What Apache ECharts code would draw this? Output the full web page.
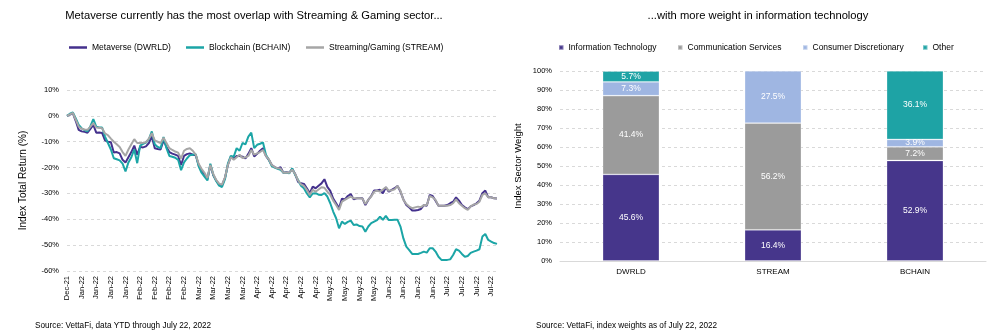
<!DOCTYPE html>
<html>
<head>
<meta charset="utf-8">
<script src="https://cdn.jsdelivr.net/npm/echarts@6/dist/echarts.min.js"></script>
<style>
  html, body { margin: 0; padding: 0; background: #ffffff; }
  #chart { width: 999px; height: 332px; }
</style>
</head>
<body>
<div id="chart"></div>
<script>
// Weekly tick labels for the daily return axis (one label every five trading days)
const tickLabels = ['Dec-21', 'Jan-22', 'Jan-22', 'Jan-22', 'Jan-22', 'Feb-22', 'Feb-22', 'Feb-22', 'Feb-22',
  'Mar-22', 'Mar-22', 'Mar-22', 'Mar-22', 'Apr-22', 'Apr-22', 'Apr-22', 'Apr-22', 'Apr-22',
  'May-22', 'May-22', 'May-22', 'May-22', 'Jun-22', 'Jun-22', 'Jun-22', 'Jun-22',
  'Jul-22', 'Jul-22', 'Jul-22', 'Jul-22'];

// Cumulative total return (%) per trading day, Dec 31 2021 to Jul 22 2022
const dwrld = [0, 0.5, 1.0, -2.0, -5.4, -6.0, -6.2, -6.5, -5.0, -3.5,
  -6.5, -6.4, -6.6, -9.5, -10.0, -10.2, -14.2, -14.0, -14.5, -17.0,
  -18.0, -16.0, -14.0, -11.5, -15.0, -12.0, -12.2, -11.8, -10.5, -8.0,
  -12.5, -12.8, -13.0, -9.5, -12.0, -14.0, -14.6, -15.0, -15.5, -19.0,
  -15.5, -14.8, -14.5, -15.0, -15.2, -19.0, -21.0, -22.5, -24.5, -19.0,
  -23.0, -25.0, -26.5, -26.8, -24.0, -19.0, -15.8, -16.5, -15.5, -15.5,
  -15.8, -16.5, -14.7, -12.5, -15.7, -14.7, -13.5, -12.5, -15.5, -17.0,
  -19.0, -19.8, -20.3, -19.9, -22.0, -21.8, -22.0, -20.6, -22.5, -25.5,
  -26.1, -26.3, -28.0, -29.9, -27.4, -28.0, -27.0, -26.1, -24.5, -27.5,
  -29.0, -32.0, -33.8, -35.7, -32.0, -32.3, -31.0, -30.2, -32.3, -31.9,
  -31.9, -31.9, -34.5, -32.5, -31.0, -28.9, -28.9, -28.6, -30.0, -27.6,
  -29.3, -28.6, -28.0, -27.1, -29.3, -32.3, -34.5, -35.4, -36.6, -36.6,
  -36.4, -36.0, -34.5, -34.8, -30.6, -31.0, -32.8, -34.8, -34.8, -34.8,
  -34.5, -33.8, -33.2, -31.5, -32.8, -34.5, -35.4, -36.1, -35.0, -34.5,
  -33.8, -32.8, -29.9, -28.9, -31.5, -31.5, -31.9, -32.0];

const bchain = [0, 0.8, 1.3, -1.0, -3.5, -4.8, -5.5, -6.0, -4.0, -1.3,
  -4.2, -4.5, -4.5, -8.0, -10.5, -13.0, -16.4, -16.8, -17.2, -18.5,
  -21.5, -18.0, -16.0, -13.0, -18.3, -11.5, -10.8, -10.3, -9.0, -6.0,
  -11.0, -12.0, -12.5, -8.2, -12.5, -15.5, -15.8, -16.2, -17.0, -21.0,
  -18.0, -16.5, -15.2, -15.0, -14.8, -19.5, -22.0, -23.5, -25.0, -18.5,
  -22.8, -25.2, -27.0, -27.5, -24.5, -18.5, -15.5, -15.8, -12.5, -13.5,
  -10.5, -11.0, -8.0, -6.5, -12.5, -11.2, -10.8, -10.3, -15.0, -17.0,
  -19.4, -20.0, -20.5, -20.9, -22.0, -22.0, -22.2, -20.3, -22.8, -24.8,
  -27.0, -28.0, -30.0, -31.5, -30.0, -29.9, -30.5, -30.6, -29.9, -31.2,
  -33.8, -37.0, -39.6, -43.5, -40.9, -41.8, -41.0, -40.5, -42.2, -42.0,
  -42.6, -42.8, -44.8, -42.8, -41.5, -40.9, -40.3, -39.0, -40.2, -38.7,
  -40.3, -40.3, -40.2, -40.2, -42.8, -47.4, -50.6, -51.9, -53.4, -53.4,
  -53.4, -53.0, -52.5, -52.9, -51.2, -51.2, -52.5, -54.5, -55.7, -55.7,
  -55.7, -55.5, -53.8, -51.6, -52.1, -53.4, -54.5, -54.2, -53.0, -52.5,
  -52.1, -51.6, -46.7, -45.7, -48.0, -48.6, -49.2, -49.5];

const stream = [0, 0.6, 1.1, -1.5, -4.2, -5.0, -5.3, -5.4, -4.2, -2.8,
  -4.5, -4.6, -4.8, -6.8, -7.5, -8.8, -10.0, -11.0, -12.0, -14.0,
  -15.5, -13.0, -11.0, -9.0, -10.5, -10.5, -10.4, -10.2, -8.8, -6.7,
  -9.5, -10.0, -10.5, -8.5, -10.5, -12.5, -13.2, -13.8, -14.2, -16.5,
  -13.5, -12.8, -12.5, -13.5, -15.0, -18.5, -20.5, -22.0, -24.0, -19.0,
  -22.5, -24.8, -26.2, -26.6, -23.8, -19.0, -16.0, -17.0, -16.0, -15.0,
  -16.3, -16.0, -15.5, -13.2, -15.0, -14.5, -14.0, -13.2, -15.5, -16.8,
  -19.0, -19.8, -20.3, -20.4, -22.0, -21.9, -22.0, -20.8, -22.5, -25.0,
  -26.5, -27.1, -28.6, -30.6, -28.6, -29.3, -28.5, -27.6, -27.8, -29.3,
  -30.5, -32.8, -34.5, -36.4, -33.2, -32.5, -31.8, -31.2, -31.9, -31.9,
  -31.9, -32.0, -34.1, -32.5, -31.2, -29.3, -28.9, -29.3, -28.5, -27.6,
  -29.0, -28.8, -28.4, -27.1, -29.0, -32.5, -34.1, -35.1, -35.7, -35.4,
  -35.1, -35.3, -34.5, -34.6, -31.0, -31.5, -32.5, -34.8, -34.8, -34.8,
  -34.8, -34.5, -33.8, -32.3, -33.8, -34.8, -35.7, -36.4, -35.0, -34.3,
  -34.1, -33.2, -30.6, -30.0, -31.5, -31.5, -31.9, -32.0];

// Sector weights (%) for each index
const funds = ['DWRLD', 'STREAM', 'BCHAIN'];
const infoTech = [45.6, 16.4, 52.9];
const commServices = [41.4, 56.2, 7.2];
const consDisc = [7.3, 27.5, 3.9];
const other = [5.7, 0, 36.1];

const FONT = '"Liberation Sans", Arial, Helvetica, sans-serif';
const GRID_LINE = { type: [3, 3], color: '#d9d9d9', width: 1 };

const lineNames = ['Metaverse (DWRLD)', 'Blockchain (BCHAIN)', 'Streaming/Gaming (STREAM)'];
const lineColors = ['#44318D', '#1BA5A6', '#A6A6A6'];
const lineData = [dwrld, bchain, stream];
const lineLegendLeft = [69, 186, 306];

const barNames = ['Information Technology', 'Communication Services', 'Consumer Discretionary', 'Other'];
const barColors = ['#46368B', '#9B9B9B', '#9FB6E2', '#1EA3A5'];
const barData = [infoTech, commServices, consDisc, other];
const barLegendLeft = [558, 677, 802, 922];

const dayIds = dwrld.map((_, i) => String(i));

const legends = [];
lineNames.forEach((n, k) => legends.push({
  data: [n], left: lineLegendLeft[k], top: 43, padding: 0,
  icon: 'rect', itemWidth: 18, itemHeight: 2.5,
  textStyle: { fontFamily: FONT, fontSize: 8.5, color: '#000' }
}));
barNames.forEach((n, k) => legends.push({
  data: [n], left: barLegendLeft[k], top: 43, padding: 0,
  icon: 'rect', itemWidth: 4.5, itemHeight: 4.5,
  textStyle: { fontFamily: FONT, fontSize: 8.5, color: '#000' }
}));

const series = [];
lineNames.forEach((n, k) => series.push({
  name: n, type: 'line', xAxisIndex: 0, yAxisIndex: 0,
  data: lineData[k], showSymbol: false, symbol: 'none',
  lineStyle: { color: lineColors[k], width: 2 },
  itemStyle: { color: lineColors[k] },
  emphasis: { disabled: true }
}));
barNames.forEach((n, k) => series.push({
  name: n, type: 'bar', xAxisIndex: 1, yAxisIndex: 1, stack: 'weight',
  data: barData[k], barWidth: '40%',
  itemStyle: { color: barColors[k], borderColor: 'rgba(255,255,255,0.35)', borderWidth: 0.8 },
  label: {
    show: true, position: 'inside', color: '#ffffff', fontFamily: FONT, fontSize: 8.5,
    formatter: p => (p.value ? p.value.toFixed(1) + '%' : '')
  },
  emphasis: { disabled: true }
}));

const option = {
  animation: false,
  backgroundColor: '#ffffff',
  textStyle: { fontFamily: FONT },
  graphic: [
    { type: 'text', x: 254, y: 16,
      style: { text: 'Metaverse currently has the most overlap with Streaming & Gaming sector...',
        font: '11.2px ' + FONT, fill: '#000', textAlign: 'center', textVerticalAlign: 'middle' } },
    { type: 'text', x: 758, y: 16,
      style: { text: '...with more weight in information technology',
        font: '11.2px ' + FONT, fill: '#000', textAlign: 'center', textVerticalAlign: 'middle' } },
    { type: 'text', x: 35, y: 326,
      style: { text: 'Source: VettaFi, data YTD through July 22, 2022',
        font: '8.2px ' + FONT, fill: '#000', textAlign: 'left', textVerticalAlign: 'middle' } },
    { type: 'text', x: 536, y: 326,
      style: { text: 'Source: VettaFi, index weights as of July 22, 2022',
        font: '8.2px ' + FONT, fill: '#000', textAlign: 'left', textVerticalAlign: 'middle' } }
  ],
  legend: legends,
  grid: [
    { left: 67, right: 502, top: 90, bottom: 61, outerBoundsMode: 'none' },
    { left: 560, right: 13, top: 71, bottom: 71, outerBoundsMode: 'none' }
  ],
  xAxis: [
    {
      type: 'category', gridIndex: 0, data: dayIds, boundaryGap: false,
      axisLine: { show: false }, axisTick: { show: false }, splitLine: { show: false },
      axisLabel: {
        interval: 4, rotate: 90, margin: 5, fontFamily: FONT, fontSize: 7.5, color: '#000',
        formatter: (v, idx) => tickLabels[idx / 5]
      }
    },
    {
      type: 'category', gridIndex: 1, data: funds,
      axisLine: { show: true, lineStyle: { color: '#d9d9d9', width: 1 } },
      axisTick: { show: false },
      axisLabel: { margin: 7, fontFamily: FONT, fontSize: 8, color: '#000' }
    }
  ],
  yAxis: [
    {
      type: 'value', gridIndex: 0, min: -60, max: 10, interval: 10,
      axisLine: { show: false }, axisTick: { show: false },
      splitLine: { show: true, lineStyle: GRID_LINE },
      axisLabel: { margin: 8, fontFamily: FONT, fontSize: 7.5, color: '#000', formatter: '{value}%' },
      name: 'Index Total Return (%)', nameLocation: 'middle', nameGap: 39,
      nameTextStyle: { fontFamily: FONT, fontSize: 10, color: '#000' }
    },
    {
      type: 'value', gridIndex: 1, min: 0, max: 100, interval: 10,
      axisLine: { show: false }, axisTick: { show: false },
      splitLine: { show: true, lineStyle: GRID_LINE },
      axisLabel: { margin: 8, fontFamily: FONT, fontSize: 7.5, color: '#000', formatter: '{value}%' },
      name: 'Index Sector Weight', nameLocation: 'middle', nameGap: 37,
      nameTextStyle: { fontFamily: FONT, fontSize: 9.5, color: '#000' }
    }
  ],
  series: series
};

const chart = echarts.init(document.getElementById('chart'), null, { renderer: 'canvas' });
chart.setOption(option);
</script>
</body>
</html>
